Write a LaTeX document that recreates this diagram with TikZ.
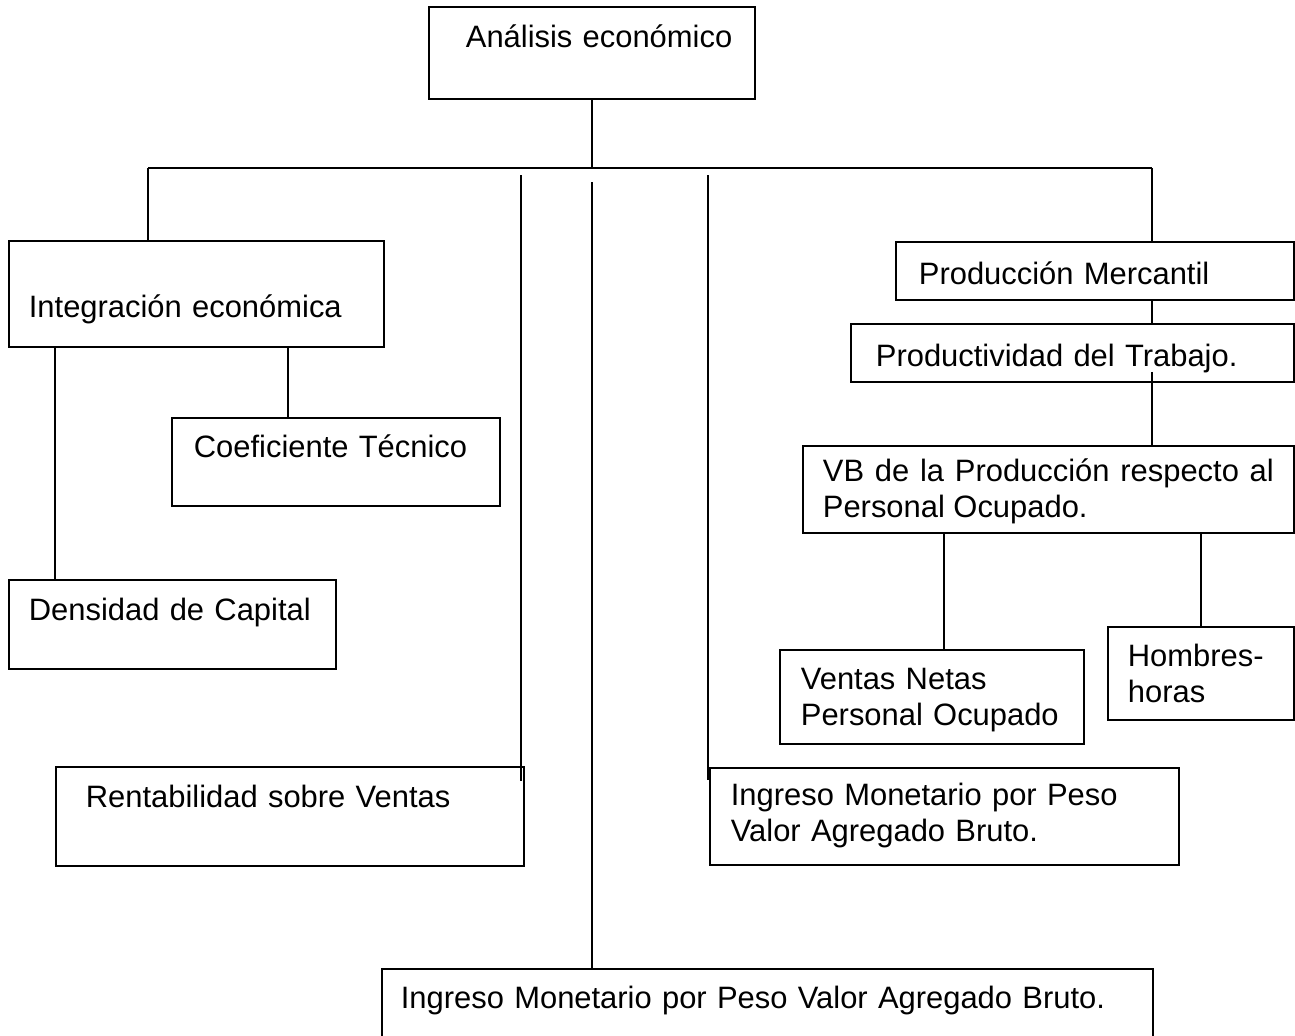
\documentclass[tikz,border=0pt]{standalone}
\usepackage{fontspec}
\setmainfont{Liberation Sans}
\def\px{0.02cm}
\tikzset{
    caja/.style n args={4}{draw, line width=1pt, anchor=north west, align=left,
        inner ysep=0pt, inner xsep=#1*\px, text width=#2*\px,
        text height=#3*\px, text depth=#4*\px,
        font=\fontsize{17.6}{20.4}\selectfont},
    linea/.style={line width=1pt}
}
\begin{document}
\begin{tikzpicture}[x=\px, y=-\px]
\useasboundingbox (0,0) rectangle (1295,1035);

\node[caja={37}{252}{41}{51}] (raiz) at (428,6) {\mbox{Análisis económico}};
\node[caja={20}{335}{77}{29}] (integ) at (8,240) {Integración económica};
\node[caja={22}{284}{40}{48}] (coef) at (171,417) {Coeficiente Técnico};
\node[caja={20}{287}{41}{48}] (dens) at (8,579) {Densidad de Capital};
\node[caja={30}{408}{41}{58}] (rentab) at (55,766) {Rentabilidad sobre Ventas};
\node[caja={21}{427}{38}{59}] (ingder) at (709,767) {Ingreso Monetario por Peso\\Valor Agregado Bruto.};
\node[caja={19}{733}{40}{92}] (ingfondo) at (381,968) {Ingreso Monetario por Peso Valor Agregado Bruto.};
\node[caja={23}{352}{43}{15}] (prodm) at (895,241) {Producción Mercantil};
\node[caja={25}{393}{43}{15}] (productiv) at (850,323) {Productividad del Trabajo.};
\node[caja={20}{451}{36}{51}, align=justify] (vb) at (802,445) {VB de la Producción respecto al Personal Ocupado.};
\node[caja={21}{262}{40}{54}] (ventas) at (779,649) {Ventas Netas\\Personal Ocupado};
\node[caja={20}{146}{40}{53}] (hombres) at (1107,626) {Hombres-\\horas};

\coordinate (bi) at (148,168);
\coordinate (bd) at (1152,168);
\draw[linea] (raiz.south) -- (raiz.south |- bi);
\draw[linea] (bi) -- (bd);
\draw[linea] (bi) -- (bi |- integ.north);
\draw[linea] (bd) -- (bd |- prodm.north);

\coordinate (d1) at ([xshift=47*\px]integ.south west);
\coordinate (d2) at ([xshift=280*\px]integ.south west);
\draw[linea] (d1) -- (d1 |- dens.north);
\draw[linea] (d2) -- (d2 |- coef.north);

\coordinate (l1) at (521,175);
\coordinate (l2) at (592,182);
\coordinate (l3) at (708,175);
\coordinate (l1f) at (l1 |- rentab.north);
\coordinate (l3f) at (l3 |- ingder.north);
\draw[linea] (l1) -- ([yshift=-15*\px]l1f);
\draw[linea] (l2) -- (l2 |- ingfondo.north);
\draw[linea] (l3) -- ([yshift=-13*\px]l3f);

\coordinate (p1) at (bd |- productiv.south);
\draw[linea] (bd |- prodm.south) -- (bd |- productiv.north);
\draw[linea] ([yshift=11*\px]p1) -- (bd |- vb.north);

\coordinate (d3) at ([xshift=12*\px]ventas.north);
\draw[linea] (d3 |- vb.south) -- (d3);
\draw[linea] (vb.south -| hombres.north) -- (hombres.north);
\end{tikzpicture}
\end{document}
